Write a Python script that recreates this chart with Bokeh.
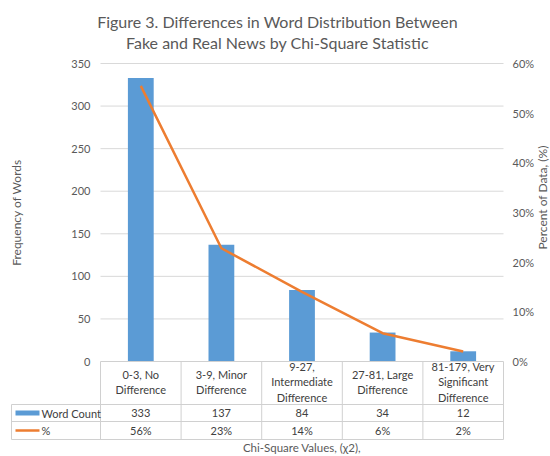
import math
from bokeh.plotting import figure
from bokeh.models import Range1d, LinearAxis, FixedTicker, PrintfTickFormatter
from bokeh.embed import file_html
from bokeh.resources import INLINE
from bokeh.core.properties import value

# ---------------- data ----------------
categories = ["0-3, No Difference", "3-9, Minor Difference", "9-27, Intermediate Difference",
              "27-81, Large Difference", "81-179, Very Significant Difference"]
cat_labels = ["0-3, No\nDifference", "3-9, Minor\nDifference", "9-27,\nIntermediate\nDifference",
              "27-81, Large\nDifference", "81-179, Very\nSignificant\nDifference"]
word_count = [333, 137, 84, 34, 12]
pct = [55.5, 22.8, 14.0, 5.7, 2.0]
pct_labels = ["56%", "23%", "14%", "6%", "2%"]
count_ticks = [0, 50, 100, 150, 200, 250, 300, 350]
pct_ticks = [0, 10, 20, 30, 40, 50, 60]
series_names = ["Word Count", "%"]
title_lines = ["Figure 3. Differences in Word Distribution Between",
               "Fake and Real News by Chi-Square Statistic"]
x_title = "Chi-Square Values, (\u03c72),"
y_title = "Frequency of Words"
y2_title = "Percent of Data, (%)"

FONT = "Lato"
BLUE = "#5B9BD5"
ORANGE = "#ED7D31"
GRAY = "#595959"
TXT = "#404040"
GRID = "#D9D9D9"
LINE = "#D0D0D0"

W, H = 550, 456
# layout geometry (pixels, canvas coordinates)
X0_PX = 100         # canvas x of the first category's left edge
CAT_PX = 80.6       # pixel width of one category
Y0_PX = 361         # canvas y of value 0
SY = 298.0 / 350.0  # pixels per word-count unit
YMAX = max(count_ticks)
PMAX = max(pct_ticks)


def xd(canvas_x):
    return (canvas_x - X0_PX) / CAT_PX


def yd(canvas_y):
    return (Y0_PX - canvas_y) / SY


n = len(categories)
x_start, x_end = xd(0), xd(W)
y_start, y_end = yd(H), yd(0)

p = figure(width=W, height=H, x_range=Range1d(x_start, x_end), y_range=Range1d(y_start, y_end),
           output_backend="svg", toolbar_location=None,
           min_border_left=0, min_border_right=0, min_border_top=0, min_border_bottom=0)
p.outline_line_color = None
p.background_fill_color = "white"
p.border_fill_color = "white"
p.xaxis.visible = False
p.grid.visible = False

# left axis (word count)
yax = p.yaxis[0]
yax.fixed_location = 0
yax.bounds = (0, YMAX)
yax.ticker = FixedTicker(ticks=count_ticks)
yax.axis_line_color = None
yax.major_tick_line_color = None
yax.major_tick_out = 0
yax.major_tick_in = 0
yax.minor_tick_line_color = None
yax.major_label_text_font = FONT
yax.major_label_text_font_size = "11px"
yax.major_label_text_color = GRAY
yax.major_label_standoff = 10
yax.axis_label = y_title
yax.axis_label_text_font = FONT
yax.axis_label_text_font_size = "12px"
yax.axis_label_text_font_style = "normal"
yax.axis_label_text_color = GRAY
yax.axis_label_standoff = 44

# right axis (percent)
ratio = PMAX / YMAX
p.extra_y_ranges = {"pct": Range1d(y_start * ratio, y_end * ratio)}
rax = LinearAxis(y_range_name="pct", ticker=FixedTicker(ticks=pct_ticks),
                 formatter=PrintfTickFormatter(format="%d%%"))
rax.fixed_location = n
rax.bounds = (0, PMAX)
rax.axis_line_color = None
rax.major_tick_line_color = None
rax.major_tick_out = 0
rax.major_tick_in = 0
rax.minor_tick_line_color = None
rax.major_label_text_font = FONT
rax.major_label_text_font_size = "11px"
rax.major_label_text_color = GRAY
rax.major_label_standoff = 9
p.add_layout(rax, "right")

# right axis title, reading bottom-to-top
p.text(x=[xd(542)], y=[yd(197)], text=[y2_title], angle=math.pi / 2, text_align="center",
       text_baseline="middle", text_font=value(FONT), text_font_size="12px", text_color=GRAY)

# gridlines along the count ticks
gt = [t for t in count_ticks if t > 0]
p.segment(x0=[0] * len(gt), y0=gt, x1=[n] * len(gt), y1=gt, line_color=GRID, line_width=1)

centers = [i + 0.5 for i in range(n)]
p.vbar(x=centers, top=word_count, width=0.32, fill_color=BLUE, line_color=None)
p.line(x=centers, y=pct, y_range_name="pct", line_color=ORANGE, line_width=2.5)

# title
p.text(x=[xd(277)] * 2, y=[yd(21), yd(42)], text=title_lines, text_align="center",
       text_baseline="middle", text_font=value(FONT), text_font_size="16px", text_color=GRAY)

# ---------------- data table ----------------
r0, r1, r2, r3 = yd(Y0_PX), yd(Y0_PX + 43), yd(Y0_PX + 60), yd(Y0_PX + 78)
xl = xd(11)
p.segment(x0=[0, xl, xl, xl], y0=[r0, r1, r2, r3], x1=[n] * 4, y1=[r0, r1, r2, r3],
          line_color=LINE, line_width=1)
vx = list(range(n + 1))
p.segment(x0=vx, y0=[r0] * len(vx), x1=vx, y1=[r3] * len(vx), line_color=LINE, line_width=1)
p.segment(x0=[xl], y0=[r1], x1=[xl], y1=[r3], line_color=LINE, line_width=1)

p.text(x=centers, y=[yd(Y0_PX + 20.5)] * n, text=cat_labels, text_align="center",
       text_baseline="middle", text_font=value(FONT), text_font_size="11px", text_color=TXT,
       text_line_height=1.2)
p.text(x=centers, y=[yd(Y0_PX + 51.5)] * n, text=[str(v) for v in word_count], text_align="center",
       text_baseline="middle", text_font=value(FONT), text_font_size="11px", text_color=TXT)
p.text(x=centers, y=[yd(Y0_PX + 69)] * n, text=pct_labels, text_align="center",
       text_baseline="middle", text_font=value(FONT), text_font_size="11px", text_color=TXT)

# legend keys inside the table
p.quad(left=[xd(15)], right=[xd(39)], top=[yd(Y0_PX + 49)], bottom=[yd(Y0_PX + 54)],
       fill_color=BLUE, line_color=None)
p.segment(x0=[xd(15)], y0=[yd(Y0_PX + 69)], x1=[xd(39)], y1=[yd(Y0_PX + 69)],
          line_color=ORANGE, line_width=2.5)
p.text(x=[xd(41)] * 2, y=[yd(Y0_PX + 51.5), yd(Y0_PX + 69)], text=series_names,
       text_align="left", text_baseline="middle", text_font=value(FONT),
       text_font_size="11px", text_color=TXT)

p.text(x=[n / 2], y=[yd(447)], text=[x_title], text_align="center",
       text_baseline="middle", text_font=value(FONT), text_font_size="11.5px", text_color=GRAY)

open("out.html", "w").write(file_html(p, INLINE))
